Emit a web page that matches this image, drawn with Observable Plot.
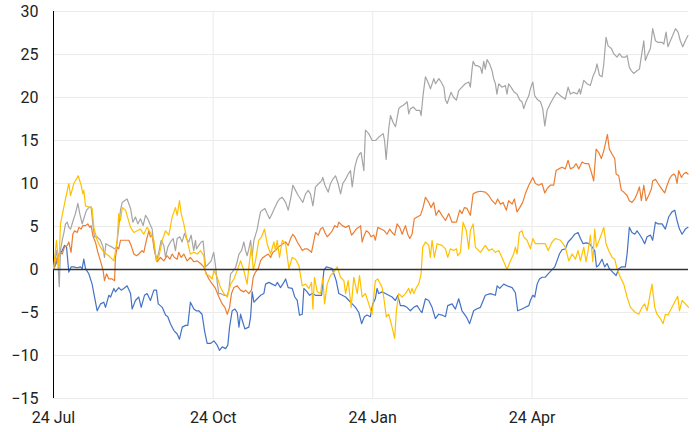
<!DOCTYPE html>
<html><head><meta charset="utf-8">
<script src="https://cdn.jsdelivr.net/npm/d3@7"></script>
<script src="https://cdn.jsdelivr.net/npm/@observablehq/plot@0.6"></script>
<style>html,body{margin:0;padding:0;background:#fff} svg{display:block}</style>
</head><body><div id="chart"></div>
<script>
// x = position along the time axis (days from 24 Jul, evenly spaced), v = value
const xTickPos = [0, 91.8, 183.5, 275.1];
const xTickLabels = ["24 Jul", "24 Oct", "24 Jan", "24 Apr"];
const yTicks = [-15, -10, -5, 0, 5, 10, 15, 20, 25, 30];

const blue = [[0,0],[2.1,1.0],[3.6,1.8],[5,2.2],[6.3,2.8],[7.5,2.6],[8.8,-0.3],[10.1,0.3],[11.7,0.3],[13.6,0.2],[15.5,0.3],[16.5,0.1],[17.4,1.2],[18.4,0.1],[20.3,-0.5],[22.2,-1.7],[23.6,-3.2],[25.1,-4.8],[27,-4.0],[28.9,-3.8],[29.9,-4.4],[31.8,-3.0],[32.8,-3.2],[34.7,-2.2],[35.6,-2.6],[37.5,-2.1],[38.9,-2.4],[40.4,-2.2],[42.3,-1.9],[44.3,-2.8],[45.2,-4.6],[47.1,-3.6],[49,-3.2],[50.4,-4.4],[52.3,-3.0],[53.8,-2.8],[55.7,-3.6],[57.7,-2.4],[59.2,-2.4],[60.2,-4.0],[62.5,-4.4],[64.4,-5.3],[65.7,-5.5],[67.2,-6.3],[69.2,-7.1],[71.1,-7.5],[72.4,-8.1],[74,-6.7],[75.9,-6.5],[77.2,-6.5],[78.7,-3.8],[80.7,-4.6],[82,-4.8],[83.5,-4.8],[85.4,-5.2],[86.8,-7.1],[88.3,-8.6],[90.2,-8.6],[92.2,-8.3],[94.1,-8.8],[95.4,-9.4],[97,-9.0],[98.9,-9.2],[100.2,-8.8],[101.2,-6.7],[102.7,-4.8],[104.3,-4.6],[105.6,-5.0],[106.6,-6.7],[107.5,-5.2],[108.5,-5.9],[110,-6.9],[112.3,-6.7],[113.3,-5.5],[114.2,-2.6],[115.2,-3.8],[117.1,-3.4],[119,-3.0],[120.9,-2.8],[121.9,-1.7],[123.8,-1.5],[125.7,-1.7],[127.6,-1.9],[128.6,-1.5],[130.5,-2.1],[132.4,-1.5],[133.4,-1.1],[134.9,-2.1],[137.2,-2.2],[138.7,-3.2],[140.1,-3.6],[141.4,-5.3],[143,-5.2],[143.9,-2.2],[145.8,-2.6],[147.2,-3.0],[148.7,-2.8],[150.6,-3.0],[152.5,-3.0],[154.1,-3.0],[155.4,-0.1],[156.8,0.3],[158.7,0.2],[160.2,0.1],[161.5,-0.7],[162.5,-1.3],[164,-2.8],[166,-3.0],[167.9,-3.2],[169.8,-3.6],[171.7,-4.0],[173.6,-4.4],[175.5,-5.0],[177.1,-6.3],[178.7,-5.5],[180.2,-5.3],[182.1,-5.5],[183.5,-4.0],[185,-3.4],[186,-2.2],[186.9,-2.8],[188.9,-2.6],[190.8,-2.8],[192.7,-3.0],[194.6,-3.2],[196.5,-3.6],[197.9,-3.0],[199.4,-4.2],[201.3,-4.2],[203.2,-4.4],[205.1,-4.8],[207.1,-4.4],[209,-4.2],[210.9,-4.8],[211.8,-5.0],[213.8,-3.4],[215.7,-3.6],[217.6,-4.4],[219.5,-5.7],[221.4,-5.2],[223.3,-5.3],[225.3,-5.5],[226.6,-4.2],[229.1,-4.0],[231,-4.6],[232.9,-3.4],[234.8,-4.8],[237.3,-5.5],[239.2,-6.3],[241.5,-4.8],[243.1,-4.6],[245.4,-4.4],[248.2,-3.0],[251.1,-2.8],[254,-3.0],[255,-1.9],[256.5,-2.2],[258.8,-1.7],[260.7,-1.9],[263.6,-2.1],[265.5,-2.7],[266.8,-4.8],[269.3,-4.6],[271.2,-4.4],[273.2,-4.2],[274.1,-3.6],[275.5,-3.0],[276.6,-3.2],[278,-1.7],[279.3,-1.1],[280.8,-0.9],[282.7,-0.9],[284.3,-0.5],[286.2,-0.1],[288.1,0.3],[289.4,1.0],[290.8,1.8],[292.3,2.3],[294.2,2.4],[295.8,3.2],[297.7,3.6],[299.6,4.1],[301.5,4.3],[302.9,3.6],[304.4,3.0],[306.1,3.1],[308,3.0],[309.6,2.6],[311.1,2.2],[312.1,0.3],[313.4,0.5],[315.3,1.2],[316.8,0.3],[318.2,0.7],[319.5,0.1],[321.4,-0.3],[323.4,-0.7],[324.9,0.1],[326.4,0.3],[328.7,0.3],[329.7,1.8],[331,4.9],[332.5,4.3],[334.1,4.1],[335.4,4.5],[336.8,4.1],[338.3,3.6],[339.8,3.0],[341.2,3.8],[343.1,4.0],[344.4,3.4],[346,5.5],[347.5,5.3],[349.8,5.3],[351.7,4.7],[353.6,6.1],[355.5,6.7],[357.1,6.9],[358.4,5.7],[359.8,4.7],[361.3,4.1],[363.2,4.7],[364.7,4.9]];

const orange = [[0,0],[2.1,1.4],[3.6,2.0],[5,1.8],[6.3,2.6],[7.9,2.8],[8.8,3.2],[10.1,2.0],[11.1,4.1],[12.1,4.5],[13.6,4.3],[14.6,4.9],[15.9,4.7],[16.9,5.1],[18.4,5.1],[19.7,5.3],[20.9,4.9],[21.6,5.1],[22.8,3.8],[24.1,3.2],[25.5,2.0],[27,1.0],[28.5,-0.1],[29.3,-1.3],[30.5,-0.5],[31.8,-1.1],[33.7,-1.1],[35.1,-1.3],[35.6,1.4],[36.6,2.6],[37.5,2.4],[38.5,3.4],[39.5,3.4],[41.4,3.4],[43.3,3.4],[44.6,2.8],[46.2,1.8],[47.7,1.6],[49,1.8],[50.9,2.2],[51.9,2.0],[53.4,3.4],[54.8,4.5],[55.7,3.8],[56.7,4.0],[58,2.2],[59.6,0.9],[61.5,1.4],[63.4,1.0],[65.3,1.6],[66.9,1.2],[68.2,1.8],[69.5,1.4],[71.1,1.2],[72,2.0],[73.4,1.4],[74.9,1.8],[76.8,1.0],[78.7,1.4],[80.7,0.9],[82.6,1.0],[84.5,0.7],[86.4,0.3],[87.9,-0.5],[89.3,-1.1],[90.6,-1.5],[92.1,-1.9],[93.1,-2.2],[95.1,-3.2],[97,-4.0],[98.5,-4.4],[99.9,-5.2],[101.2,-4.4],[102.3,-2.8],[103.7,-2.1],[105.6,-1.9],[107.5,-2.4],[109.4,-2.6],[110.4,-2.4],[112.3,-2.8],[113.8,-2.4],[114.8,-0.9],[116.1,-0.3],[117.7,0.1],[119,1.0],[120.4,1.4],[121.9,1.6],[123.4,1.8],[124.8,1.4],[126.1,2.0],[127.6,2.2],[129.2,2.6],[130.5,2.8],[131.8,3.0],[133.4,3.2],[134.9,2.8],[136.3,3.6],[137.6,4.1],[138.7,3.8],[140.1,3.2],[141.4,2.8],[143,2.2],[144.5,2.4],[145.8,2.4],[147.2,2.2],[148.3,2.0],[149.7,3.4],[150.6,4.3],[152.2,4.0],[153.5,4.7],[154.8,4.9],[156,4.3],[157.3,3.8],[158.7,4.1],[160.2,4.5],[161.7,5.1],[163.1,4.9],[164,5.5],[166,5.1],[167.9,4.9],[169.8,5.1],[171.3,4.0],[172.6,4.3],[174,4.7],[175.5,4.9],[176.5,5.1],[177.4,3.2],[178.3,3.8],[179.8,4.5],[181.2,4.3],[182.5,3.8],[184.1,4.0],[185,3.4],[186.4,4.9],[188.3,4.7],[190.2,4.5],[191.7,4.1],[193.3,4.7],[194.6,4.3],[196.1,4.0],[197.5,5.3],[199,4.9],[200.4,4.1],[202.3,5.1],[203.6,4.1],[204.8,3.6],[206.1,4.1],[207.4,5.9],[209,6.1],[210.9,6.3],[212.4,7.2],[213.8,8.4],[215.7,7.8],[217,7.2],[218.5,7.8],[219.9,6.3],[221.4,6.9],[223.3,6.3],[225.3,5.7],[227.2,6.5],[229.1,5.5],[231.6,5.5],[233.5,6.9],[234.8,6.5],[236.2,7.2],[237.7,7.1],[239.6,6.3],[241.2,8.8],[243.1,9.0],[245.4,9.1],[248.2,9.0],[250.2,8.6],[252.1,8.0],[254,7.6],[255.3,8.2],[256.9,7.6],[258.4,7.8],[260.3,6.9],[261.6,8.0],[263.6,7.6],[264.9,8.2],[266.4,6.7],[268,7.2],[269.7,7.8],[271.2,8.8],[273.2,9.8],[275.5,10.7],[277,10.0],[278.9,9.8],[280.8,10.0],[282.4,8.9],[283.7,9.4],[285.6,9.8],[287.5,9.8],[288.9,11.5],[290.4,11.7],[292.3,11.9],[294.2,11.7],[295.8,12.7],[297.1,11.7],[299,11.9],[300.4,12.3],[301.9,11.7],[302.9,12.1],[303.8,12.5],[305.7,12.3],[307.6,12.3],[309.2,11.3],[310.5,10.3],[311.9,14.0],[313.4,13.6],[314.9,12.9],[316.3,13.8],[317.2,14.6],[318.4,15.7],[319.5,14.0],[321.1,13.4],[322.6,12.9],[323.4,11.1],[324.9,10.9],[326.4,9.2],[327.8,9.0],[329.7,8.6],[331,8.0],[332.5,7.8],[334.1,8.2],[335.4,8.8],[336.8,9.6],[337.9,8.0],[339.3,9.8],[340.6,8.0],[342.1,8.6],[343.7,9.4],[344.4,10.3],[346,10.5],[347.5,10.0],[348.8,9.6],[350.2,9.2],[351.3,8.9],[352.7,9.8],[354,10.5],[355.2,10.9],[356.5,11.1],[357.5,10.9],[358.4,10.0],[359.4,11.5],[360.9,10.7],[362.2,11.1],[363.6,11.3],[364.7,11.1]];

const gray = [[0,0],[1.7,2.2],[2.5,1.0],[3.3,-2.0],[4,2.2],[5,3.4],[6,4.3],[6.9,5.3],[7.9,5.5],[8.8,4.9],[9.8,4.7],[11.3,5.7],[12.6,6.5],[14,7.7],[15.1,6.5],[16.5,5.3],[17.4,5.9],[19,6.9],[20.3,7.2],[21.6,7.3],[22.8,4.9],[23.6,3.8],[25.1,3.8],[27,3.4],[28.5,2.6],[29.3,1.4],[30.1,3.0],[31.8,2.8],[33.7,2.6],[35.1,2.4],[36.2,2.6],[37.5,4.9],[38.5,6.9],[39.5,7.8],[40.8,8.0],[42.3,8.2],[44.3,7.1],[45.6,5.5],[47.1,6.1],[48.5,5.3],[50,5.9],[51.5,5.1],[52.9,6.3],[54.2,5.9],[55.4,5.3],[56.7,4.7],[57.7,2.8],[59.2,1.0],[60.5,2.0],[61.9,3.4],[63.4,2.8],[64.4,1.4],[65.7,2.6],[67.2,3.2],[68.8,3.6],[70.1,2.2],[71.1,3.6],[72.6,3.8],[73.9,3.2],[75.3,4.2],[76.4,3.6],[77.8,3.2],[79.1,4.0],[80.6,2.2],[81.6,3.4],[82.2,2.4],[83.5,2.8],[84.9,3.2],[86,3.3],[87.4,0.3],[89.3,0.7],[90.6,1.0],[92.1,2.0],[93.1,0.5],[94.1,-1.5],[95,-2.8],[96,-2.8],[97.9,-3.0],[99.9,-3.0],[100.8,-2.4],[101.8,-0.5],[102.7,-0.3],[104.6,0.2],[105.6,0.9],[106.6,1.8],[108.1,2.2],[109.4,3.2],[110.4,2.2],[111.3,1.6],[112.3,2.4],[113.3,3.4],[114.2,1.6],[115.2,3.4],[116.1,4.0],[117.1,4.7],[118,5.7],[119,6.7],[120,6.9],[121.5,7.1],[122.8,6.5],[124.2,5.9],[125.7,6.5],[127.2,7.2],[128.6,7.8],[129.9,8.2],[131.5,8.4],[133.4,7.8],[134.9,6.9],[136.3,8.2],[137.6,9.8],[139.1,9.2],[140.7,8.6],[142,8.2],[143.3,7.8],[144.9,8.8],[146.4,9.2],[147.7,8.8],[149.1,7.4],[150.6,9.6],[152.5,10.0],[154.1,10.3],[154.8,10.7],[156,9.8],[157.9,9.0],[159.2,10.0],[160.6,10.5],[162.1,10.9],[163.6,10.0],[165,8.8],[166.3,10.0],[167.9,10.5],[169.4,11.1],[170.7,11.5],[171.7,9.6],[173.2,11.9],[174.5,12.9],[176.1,13.5],[176.8,13.6],[178.4,11.5],[179.3,16.2],[181.2,15.8],[183.2,15.0],[185.1,15.0],[187,15.4],[189.5,15.8],[190.3,15.0],[191.2,12.8],[192.7,16.4],[193.7,17.9],[195.2,17.1],[196.6,16.6],[198.5,18.7],[199.4,18.9],[201,19.1],[202.3,19.3],[203.3,19.5],[204.2,18.1],[205.2,18.7],[206.7,18.9],[208.6,18.5],[210.6,18.5],[211.3,17.9],[212.5,20.4],[213.8,22.4],[215.2,21.8],[216.7,21.0],[218.6,22.2],[219.6,21.6],[221.5,22.2],[222.8,21.8],[224.4,21.2],[225.3,19.7],[226.3,19.3],[227.8,20.2],[228.5,20.6],[230,20.0],[231.6,19.7],[232.9,20.8],[234.8,21.2],[236.7,21.6],[238.7,21.8],[239.6,21.2],[240.6,23.3],[241.2,24.2],[242.5,23.7],[243.8,23.7],[245.4,23.5],[246.3,22.8],[247.3,24.2],[248.2,23.3],[249.2,24.4],[250.7,23.9],[252.1,23.1],[253,22.2],[254,21.6],[254.9,20.4],[255.9,21.6],[257.8,21.2],[259.7,21.4],[260.7,20.4],[261.6,21.6],[263.6,21.0],[264.9,20.6],[266.4,20.4],[268,19.7],[269.3,19.5],[270.3,18.7],[271.6,19.5],[273.2,20.2],[274.1,21.0],[275.5,21.8],[276.6,20.2],[278,19.8],[279.9,19.5],[281.2,18.7],[282.4,16.7],[283.7,18.5],[285.6,19.3],[287.5,20.0],[289.4,20.6],[291.4,20.2],[294.2,19.8],[295.8,21.2],[297.1,20.4],[299,20.6],[301,20.4],[302.3,21.0],[302.9,20.4],[304.8,22.0],[306.7,21.6],[308.6,21.4],[310,22.4],[311.5,23.1],[312.4,23.9],[313.8,22.6],[315.3,22.4],[316.3,23.9],[317.6,27.0],[318.8,26.0],[320.7,25.7],[322,25.1],[323.9,24.7],[325.3,25.1],[326.8,24.7],[328.7,24.7],[329.7,24.9],[331,23.5],[332.2,23.1],[333.5,22.8],[335.4,23.1],[336.8,23.3],[338.3,25.3],[339.3,26.6],[340.2,24.3],[341.7,25.1],[343.1,25.7],[344.4,28.0],[346,26.6],[347.5,26.4],[349.8,26.4],[350.8,26.2],[352.1,27.6],[353.2,25.9],[354.6,26.6],[355.9,27.2],[357.5,28.0],[359,27.6],[360.3,26.6],[361.7,25.9],[363.2,26.6],[364.7,27.2]];

const yellow = [[0,0],[1.7,3.4],[3.1,0.3],[4,5.3],[6.9,8.2],[8.8,10.0],[9.8,8.6],[11.7,10.0],[14.2,10.9],[15.9,9.8],[16.9,8.8],[17.4,9.2],[18.4,7.4],[21.3,7.2],[22.2,7.1],[23.2,4.9],[25.1,3.4],[27,2.6],[28.9,2.0],[31.8,1.6],[34.7,1.0],[36.6,3.4],[37.5,6.5],[38.5,5.7],[39.5,7.2],[41.4,6.9],[44.3,4.9],[46.2,4.3],[50,4.7],[51.9,4.1],[53.8,4.9],[55.7,4.3],[57.7,3.4],[59.2,1.0],[60.5,1.4],[62.5,3.4],[64.4,4.5],[66.3,4.0],[68.2,6.1],[70.1,7.2],[71.1,6.3],[72.4,8.0],[73.4,6.5],[74.9,5.3],[76.8,3.4],[78.7,1.8],[80.7,2.0],[82.6,1.8],[84.5,2.2],[86.4,1.6],[87.4,-0.5],[89.3,-0.7],[91.2,-1.1],[92.2,-0.1],[94.1,-0.9],[96,-2.1],[97.9,-2.8],[99.9,-3.2],[101.8,-1.7],[103.7,-1.1],[105.6,-0.1],[107.5,1.0],[109.4,-0.1],[111.3,-1.7],[112.3,0.3],[113.8,2.8],[114.8,-0.1],[116.1,1.0],[118,3.4],[119.6,3.8],[121.3,4.7],[122.8,3.0],[124.8,1.8],[126.7,3.2],[127.6,2.2],[128.6,3.4],[129.9,1.4],[131.5,3.4],[133.4,3.0],[135.3,0.1],[137.2,1.4],[139.1,1.2],[141,0.5],[143,-1.9],[144.9,-1.7],[146.8,-2.2],[148.3,-1.5],[149.1,-4.6],[150,-0.9],[151.6,-2.6],[153.5,-2.8],[154.8,-0.9],[155.8,-4.0],[157.3,-1.7],[159.2,-0.7],[161.2,-0.3],[163.1,0.3],[165,-0.9],[166.9,-1.3],[167.9,-2.8],[169.4,-1.3],[171.1,-4.4],[172.6,-0.9],[174.6,-2.8],[175.9,-0.7],[177.4,-3.2],[179.3,-2.8],[181.2,-4.0],[183.1,-5.2],[185,-1.3],[186.4,-1.1],[188.9,-2.1],[189.8,-3.2],[191.3,-5.5],[192.7,-5.2],[194.6,-6.7],[196.1,-8.0],[197.1,-4.8],[198.4,-2.8],[200.4,-3.2],[202.3,-2.8],[204.2,-2.2],[205.1,-2.8],[206.1,-2.2],[207.1,-2.8],[208.6,-2.1],[209.9,-1.7],[211.3,-0.5],[212.2,2.6],[213.8,3.2],[215.7,2.8],[216.6,1.4],[217.6,3.4],[218.9,1.4],[220.5,3.0],[223.3,2.8],[225.3,2.4],[226.6,1.4],[228.1,2.4],[230,2.2],[231.6,2.4],[232.3,1.6],[233.9,2.0],[235.4,5.5],[237.3,4.5],[238.7,2.4],[239.6,4.5],[241.2,5.3],[242.5,2.6],[245.4,2.0],[248.2,2.8],[250.2,2.2],[252.1,2.4],[254,2.0],[255.9,2.2],[257.8,1.4],[260.7,0.0],[262.6,1.0],[264.5,1.8],[265.5,2.6],[266.5,1.8],[267.8,4.3],[269.3,4.5],[270.3,3.8],[272.2,3.4],[274.1,2.4],[275.5,3.6],[277,3.0],[279.9,3.0],[282.7,3.0],[284.3,2.2],[286.6,3.2],[288.5,3.6],[291.4,3.4],[294.2,2.6],[296.2,1.0],[298.1,1.8],[300,1.2],[301.5,2.2],[302.9,1.0],[304.8,2.6],[306.1,0.9],[307.3,2.2],[308.6,4.0],[310,0.9],[311.1,4.7],[312.1,2.6],[314.4,3.8],[316.3,4.9],[317.6,3.0],[319.1,2.2],[321.1,1.4],[322.6,1.2],[323.9,0.1],[325.8,-0.9],[327.8,-1.7],[329.7,-3.2],[331.6,-4.4],[334.5,-5.0],[336.4,-5.2],[338.3,-4.4],[339.8,-4.0],[341.2,-4.8],[344,-1.7],[345.6,-4.4],[346.9,-5.2],[348.8,-5.7],[350.4,-6.3],[351.7,-5.2],[353.2,-5.3],[355.5,-4.4],[357.5,-3.6],[358.8,-3.1],[359.8,-4.8],[361.3,-3.6],[363.2,-4.0],[365,-4.4]];

const seriesColors = ["#4472C4", "#ED7D31", "#A5A5A5", "#FFC000"];
const seriesData = [blue, orange, gray, yellow];

const chart = Plot.plot({
  width: 700,
  height: 432,
  marginLeft: 53,
  marginRight: 12,
  marginTop: 11,
  marginBottom: 34,
  style: {fontFamily: "Roboto, sans-serif", fontSize: "16px", color: "#222", background: "#fff"},
  x: {domain: [0, 365], label: null},
  y: {domain: [-15, 30], label: null},
  marks: [
    Plot.gridY(yTicks, {stroke: "#ebebeb", strokeOpacity: 1, strokeWidth: 1}),
    Plot.gridX(xTickPos.slice(1), {stroke: "#ebebeb", strokeOpacity: 1, strokeWidth: 1}),
    Plot.axisY(yTicks, {tickSize: 0, tickPadding: 15, fontSize: 16, label: null}),
    Plot.axisX(xTickPos, {tickSize: 0, tickPadding: 13, fontSize: 16, label: null,
      tickFormat: (d) => xTickLabels[xTickPos.indexOf(d)]}),
    Plot.ruleX([0], {stroke: "#000", strokeWidth: 1}),
    ...seriesData.map((pts, i) => Plot.line(pts, {x: d => d[0], y: d => d[1], stroke: seriesColors[i], strokeWidth: 1.2})),
    Plot.ruleY([0], {stroke: "#333", strokeWidth: 1.5})
  ]
});
document.getElementById("chart").appendChild(chart);
</script>
</body></html>
